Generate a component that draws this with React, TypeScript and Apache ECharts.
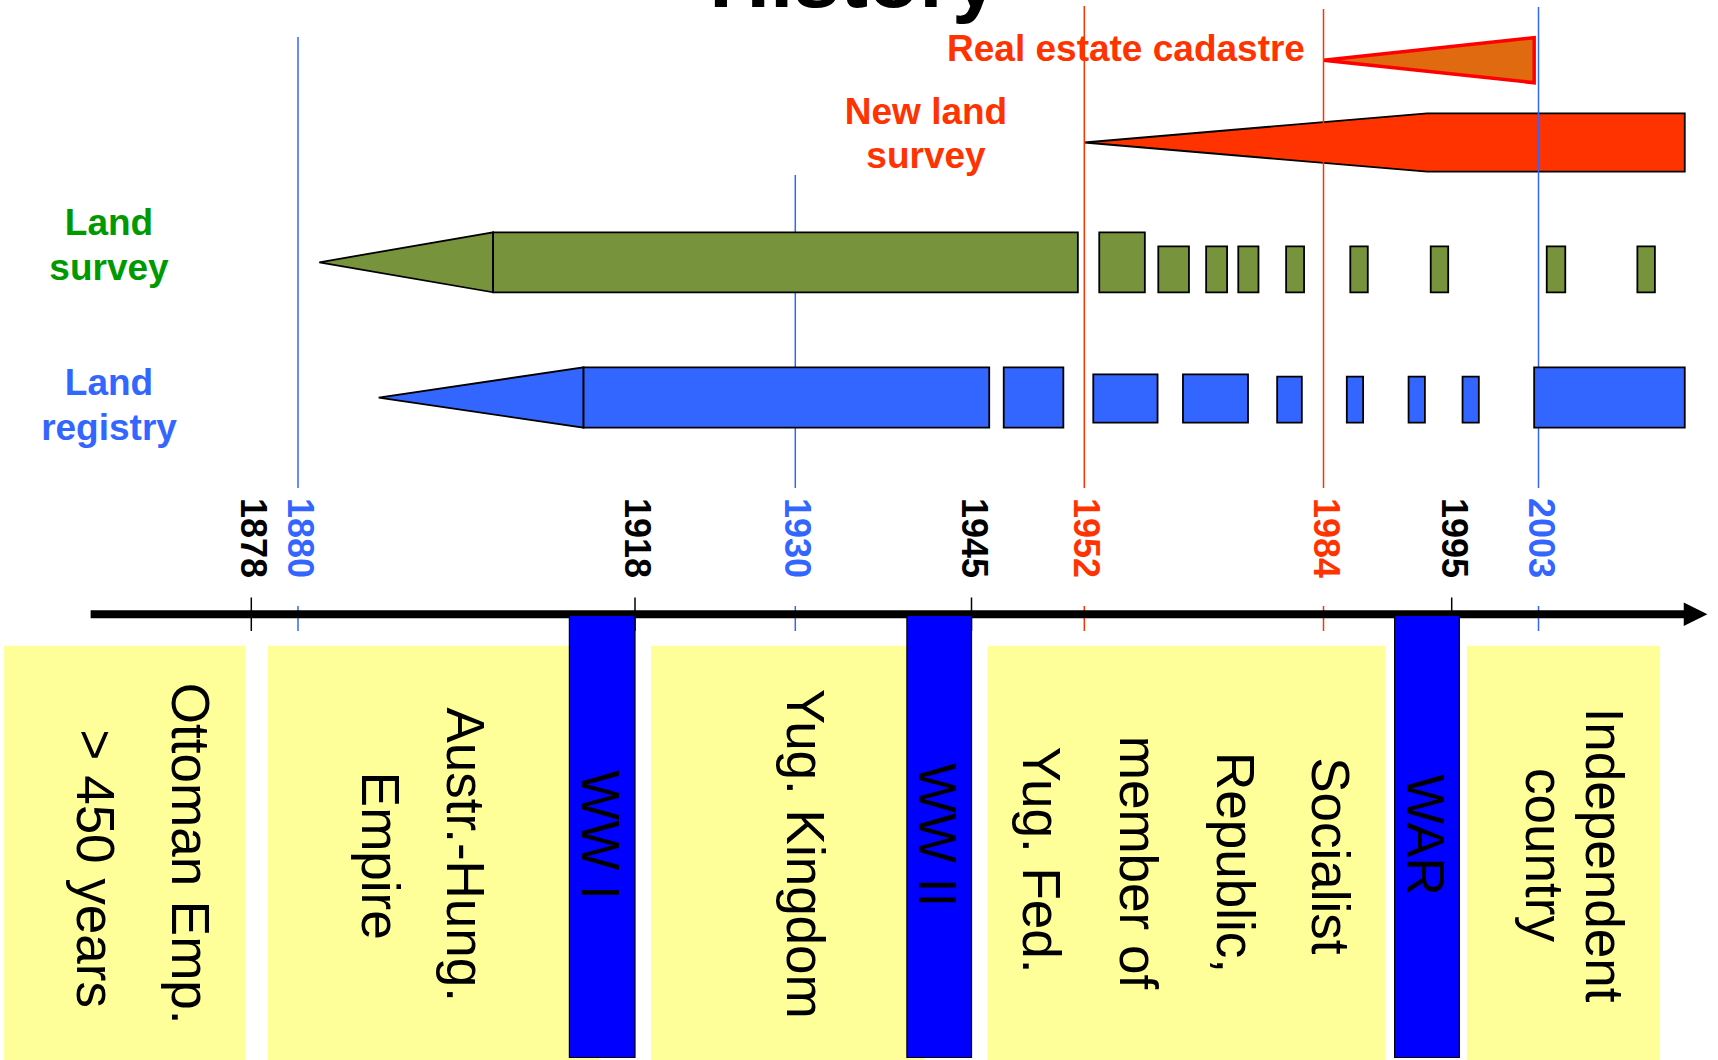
import { useEffect, useRef } from "react";
import * as echarts from "echarts";

const WIDTH = 1718;
const HEIGHT = 1060;

// ---- The slide's own (uneven, hand-drawn) year scale ----
const SCALE_YEARS = [1878, 1880, 1918, 1930, 1945, 1952, 1984, 1995, 2003];
const SCALE_UNITS = [251.3, 298.0, 635.0, 795.3, 971.5, 1084.3, 1323.5, 1451.7, 1538.5];
const OUTER_UNITS_PER_YEAR = 10.3;

// ---- Timeline axis ----
const AXIS_START_YEAR = 1862.4;
const AXIS_ARROW_BASE_YEAR = 2017.1;
const AXIS_END_YEAR = 2019.4;

// ---- Year labels ----
const YEAR_LABELS = [1878, 1880, 1918, 1930, 1945, 1952, 1984, 1995, 2003];
const YEAR_KINDS = ["event", "registry", "event", "registry", "event", "survey", "survey", "event", "registry"];

// ---- Historical periods ----
const PERIOD_NAMES = [
  ["Ottoman Emp.", "> 450 years"],
  ["Austr.-Hung.", "Empire"],
  ["Yug. Kingdom"],
  ["Socialist", "Republic,", "member of", "Yug. Fed."],
  ["Independent", "country"],
];
const PERIOD_START = [1854.0, 1878.7, 1919.2, 1946.0, 1996.4];
const PERIOD_END = [1877.4, 1914.0, 1941.0, 1989.3, 2014.8];

// ---- Wars ----
const WAR_NAMES = ["WW I", "WW II", "WAR"];
const WAR_START = [1910.6, 1939.5, 1990.1];
const WAR_END = [1918.0, 1945.0, 1995.7];

// ---- Real estate cadastre ----
const CADASTRE_TIP = 1984.0;
const CADASTRE_END = 2002.6;

// ---- New land survey ----
const NEW_SURVEY_TIP = 1952.0;
const NEW_SURVEY_FULL = 1992.9;
const NEW_SURVEY_END = 2017.2;

// ---- Land survey ----
const SURVEY_TIP = 1882.4;
const SURVEY_START = [1902.0, 1954.0, 1961.9, 1968.3, 1972.6, 1979.0, 1986.3, 1993.2, 2003.8, 2012.6];
const SURVEY_END = [1951.6, 1960.1, 1966.0, 1971.1, 1975.3, 1981.4, 1987.8, 1994.7, 2005.6, 2014.3];
const SURVEY_LEVEL = [3, 3, 2, 2, 2, 2, 2, 2, 2, 2];

// ---- Land registry ----
const REGISTRY_TIP = 1889.1;
const REGISTRY_START = [1912.2, 1947.0, 1953.2, 1965.2, 1977.8, 1986.0, 1991.3, 1996.0, 2002.6];
const REGISTRY_END = [1946.1, 1950.7, 1961.8, 1973.9, 1981.1, 1987.4, 1992.7, 1997.5, 2017.2];
const REGISTRY_LEVEL = [3, 3, 2, 2, 1, 1, 1, 1, 3];

// ---- Layout & style (not data) ----
const FONT = "'Liberation Sans', Arial, Helvetica, sans-serif";
const CW = -Math.PI / 2;
const COLORS = {
  green: "#77933C",
  greenText: "#009900",
  blue: "#3366FF",
  red: "#FF3300",
  orange: "#E06A10",
  cadastreStroke: "#FF0000",
  period: "#FFFF99",
  war: "#0000FF",
  kind: { event: "#000000", registry: "#3366FF", survey: "#FF3300" } as Record<string, string>,
};
const LAYOUT = {
  cadastre: { top: 37.7, mid: 60.3, bottom: 82.7 },
  newSurvey: { top: 113.3, mid: 142.5, bottom: 171.7 },
  survey: { mid: 262.3, levels: { 3: [232.3, 292.3], 2: [246.4, 292.3] } as Record<number, number[]> },
  registry: {
    mid: 397.7,
    levels: { 3: [367.3, 427.7], 2: [374.3, 422.7], 1: [376.7, 422.7] } as Record<number, number[]>,
  },
  markerTop: { 1880: 37, 1930: 175, 1952: 6, 1984: 9, 2003: 7 } as Record<number, number>,
  markerUpperBottom: 488,
  lowerTickTop: 606,
  lowerTickBottom: 631,
  eventTickTop: 597.5,
  eventTickBottom: 631,
  axisY: 614.3,
  axisWidth: 8,
  arrowHalf: 11.7,
  yearLabelY: 538,
  yearLabelDx: 2.5,
  periodTop: 645.7,
  periodBottom: 1060,
  warTop: 615.3,
  warBottom: 1057.5,
  warTextY: 835,
  periodText: [
    [[190.3, 853.7], [95.3, 868.7]],
    [[465.3, 854.7], [380.3, 855.8]],
    [[805.9, 853.7]],
    [[1330.3, 855.8], [1235.3, 862.5], [1138.6, 862.5], [1041.9, 860]],
    [[1604, 855], [1544.6, 855]],
  ],
};

function yearToUnit(y: number): number {
  const n = SCALE_YEARS.length;
  if (y <= SCALE_YEARS[0]) return SCALE_UNITS[0] - (SCALE_YEARS[0] - y) * OUTER_UNITS_PER_YEAR;
  if (y >= SCALE_YEARS[n - 1]) return SCALE_UNITS[n - 1] + (y - SCALE_YEARS[n - 1]) * OUTER_UNITS_PER_YEAR;
  for (let i = 0; i < n - 1; i++) {
    if (y <= SCALE_YEARS[i + 1]) {
      const t = (y - SCALE_YEARS[i]) / (SCALE_YEARS[i + 1] - SCALE_YEARS[i]);
      return SCALE_UNITS[i] + t * (SCALE_UNITS[i + 1] - SCALE_UNITS[i]);
    }
  }
  return SCALE_UNITS[n - 1];
}

const at = (api: any, year: number, y: number): number[] => api.coord([yearToUnit(year), y]);

function textEl(x: number, y: number, text: string, size: number, fill: string, weight: string, rotation = 0) {
  return {
    type: "text",
    x,
    y,
    rotation,
    style: {
      text,
      x: 0,
      y: 0,
      fill,
      fontSize: size,
      fontFamily: FONT,
      fontWeight: weight,
      align: "center",
      verticalAlign: "middle",
    },
  };
}

function rectEl(x0: number, y0: number, x1: number, y1: number, style: any) {
  return { type: "rect", shape: { x: x0, y: y0, width: x1 - x0, height: y1 - y0 }, style };
}

function custom(id: string, count: number, z: number, build: (i: number, api: any) => any) {
  return {
    type: "custom",
    id,
    z,
    silent: true,
    clip: false,
    coordinateSystem: "cartesian2d",
    data: Array.from({ length: count }, (_, i) => [i, 0]),
    renderItem: (params: any, api: any) => build(params.dataIndex, api),
  };
}

const SHAPE_STROKE = { stroke: "#000000", lineWidth: 1.8, lineJoin: "miter" };

function buildOption() {
  const L = LAYOUT;
  const series: any[] = [];

  // Period boxes with their names
  series.push(
    custom("periods", PERIOD_NAMES.length, 1, (i, api) => {
      const [x0, y0] = at(api, PERIOD_START[i], L.periodTop);
      const [x1, y1] = at(api, PERIOD_END[i], L.periodBottom);
      const texts = PERIOD_NAMES[i].map((t, k) =>
        textEl(L.periodText[i][k][0], L.periodText[i][k][1], t, 53, "#000000", "normal", CW)
      );
      return { type: "group", children: [rectEl(x0, y0, x1, y1, { fill: COLORS.period }), ...texts] };
    })
  );

  // Ticks on the axis
  series.push(
    custom("ticks", YEAR_LABELS.length, 2, (i, api) => {
      const kind = YEAR_KINDS[i];
      const isEvent = kind === "event";
      const [x, y0] = at(api, YEAR_LABELS[i], isEvent ? L.eventTickTop : L.lowerTickTop);
      const [, y1] = at(api, YEAR_LABELS[i], isEvent ? L.eventTickBottom : L.lowerTickBottom);
      return {
        type: "line",
        shape: { x1: x, y1: y0, x2: x, y2: y1 },
        style: { stroke: COLORS.kind[kind], lineWidth: 1.5 },
      };
    })
  );

  // Axis line with arrow
  series.push(
    custom("axis", 1, 3, (_i, api) => {
      const [xs, y] = at(api, AXIS_START_YEAR, L.axisY);
      const [xb] = at(api, AXIS_ARROW_BASE_YEAR, L.axisY);
      const [xe] = at(api, AXIS_END_YEAR, L.axisY);
      return {
        type: "group",
        children: [
          rectEl(xs, y - L.axisWidth / 2, xb + 1, y + L.axisWidth / 2, { fill: "#000000" }),
          {
            type: "polygon",
            shape: { points: [[xb, y - L.arrowHalf], [xe, y], [xb, y + L.arrowHalf]] },
            style: { fill: "#000000" },
          },
        ],
      };
    })
  );

  // War bars
  series.push(
    custom("wars", WAR_NAMES.length, 4, (i, api) => {
      const [x0, y0] = at(api, WAR_START[i], L.warTop);
      const [x1, y1] = at(api, WAR_END[i], L.warBottom);
      return {
        type: "group",
        children: [
          rectEl(x0, y0, x1, y1, { fill: COLORS.war, stroke: "#000000", lineWidth: 1.2 }),
          textEl((x0 + x1) / 2 - 1.5, L.warTextY, WAR_NAMES[i], 53, "#000000", "normal", CW),
        ],
      };
    })
  );

  // Year labels
  series.push(
    custom("yearLabels", YEAR_LABELS.length, 4, (i, api) => {
      const [x] = at(api, YEAR_LABELS[i], L.yearLabelY);
      return textEl(x + L.yearLabelDx, L.yearLabelY, String(YEAR_LABELS[i]), 36, COLORS.kind[YEAR_KINDS[i]], "bold", CW);
    })
  );

  // Real estate cadastre
  series.push(
    custom("cadastre", 1, 5, (_i, api) => {
      const tip = at(api, CADASTRE_TIP, L.cadastre.mid);
      const top = at(api, CADASTRE_END, L.cadastre.top);
      const bot = at(api, CADASTRE_END, L.cadastre.bottom);
      return {
        type: "polygon",
        shape: { points: [tip, top, bot] },
        style: { fill: COLORS.orange, stroke: COLORS.cadastreStroke, lineWidth: 3.5, lineJoin: "miter" },
      };
    })
  );

  // New land survey
  series.push(
    custom("newSurvey", 1, 5, (_i, api) => {
      const tip = at(api, NEW_SURVEY_TIP, L.newSurvey.mid);
      const a = at(api, NEW_SURVEY_FULL, L.newSurvey.top);
      const b = at(api, NEW_SURVEY_END, L.newSurvey.top);
      const c = at(api, NEW_SURVEY_END, L.newSurvey.bottom);
      const d = at(api, NEW_SURVEY_FULL, L.newSurvey.bottom);
      return {
        type: "polygon",
        shape: { points: [tip, a, b, c, d] },
        style: { fill: COLORS.red, ...SHAPE_STROKE },
      };
    })
  );

  // Marker lines (upper part)
  const markerIdx = YEAR_LABELS.map((_, i) => i).filter((i) => YEAR_KINDS[i] !== "event");
  series.push(
    custom("markers", markerIdx.length, 6, (k, api) => {
      const i = markerIdx[k];
      const yr = YEAR_LABELS[i];
      const [x, y0] = at(api, yr, L.markerTop[yr]);
      const [, y1] = at(api, yr, L.markerUpperBottom);
      return {
        type: "line",
        shape: { x1: x, y1: y0, x2: x, y2: y1 },
        style: { stroke: COLORS.kind[YEAR_KINDS[i]], lineWidth: 1.5 },
      };
    })
  );

  // Land survey
  series.push(
    custom("survey", SURVEY_START.length, 7, (i, api) => {
      const lv = L.survey.levels[SURVEY_LEVEL[i]];
      const [x0, y0] = at(api, SURVEY_START[i], lv[0]);
      const [x1, y1] = at(api, SURVEY_END[i], lv[1]);
      const children: any[] = [];
      if (i === 0) {
        const tip = at(api, SURVEY_TIP, L.survey.mid);
        children.push({
          type: "polygon",
          shape: { points: [tip, [x0, y0], [x0, y1]] },
          style: { fill: COLORS.green, ...SHAPE_STROKE },
        });
      }
      children.push(rectEl(x0, y0, x1, y1, { fill: COLORS.green, ...SHAPE_STROKE }));
      return { type: "group", children };
    })
  );

  // Land registry
  series.push(
    custom("registry", REGISTRY_START.length, 7, (i, api) => {
      const lv = L.registry.levels[REGISTRY_LEVEL[i]];
      const [x0, y0] = at(api, REGISTRY_START[i], lv[0]);
      const [x1, y1] = at(api, REGISTRY_END[i], lv[1]);
      const children: any[] = [];
      if (i === 0) {
        const tip = at(api, REGISTRY_TIP, L.registry.mid);
        children.push({
          type: "polygon",
          shape: { points: [tip, [x0, y0], [x0, y1]] },
          style: { fill: COLORS.blue, ...SHAPE_STROKE },
        });
      }
      children.push(rectEl(x0, y0, x1, y1, { fill: COLORS.blue, ...SHAPE_STROKE }));
      return { type: "group", children };
    })
  );

  const gText = (x: number, y: number, text: string, size: number, fill: string, weight = "bold") => ({
    type: "text",
    x,
    y,
    z: 100,
    silent: true,
    style: { text, fill, fontSize: size, fontFamily: FONT, fontWeight: weight, align: "center", verticalAlign: "middle" },
  });

  const graphic = [
    gText(854, -22, "History", 84, "#000000"),
    gText(1126, 48, "Real estate cadastre", 37, COLORS.red),
    gText(926, 111, "New land", 37, COLORS.red),
    gText(926, 155, "survey", 37, COLORS.red),
    gText(109, 222, "Land", 37, COLORS.greenText),
    gText(109, 267, "survey", 37, COLORS.greenText),
    gText(109, 382, "Land", 37, COLORS.blue),
    gText(109, 427, "registry", 37, COLORS.blue),
  ];

  return {
    animation: false,
    backgroundColor: "#ffffff",
    grid: { left: 0, right: 0, top: 0, bottom: 0, containLabel: false },
    xAxis: { type: "value", min: 0, max: WIDTH, show: false },
    yAxis: { type: "value", min: 0, max: HEIGHT, inverse: true, show: false },
    graphic,
    series,
  };
}

export default function App() {
  const ref = useRef<HTMLDivElement>(null);
  useEffect(() => {
    if (!ref.current) return;
    const chart = echarts.init(ref.current, null, { renderer: "svg", width: WIDTH, height: HEIGHT });
    chart.setOption(buildOption() as any);
    return () => chart.dispose();
  }, []);
  return (
    <div
      ref={ref}
      style={{ position: "absolute", left: 0, top: 0, width: WIDTH, height: HEIGHT, background: "#ffffff" }}
    />
  );
}
